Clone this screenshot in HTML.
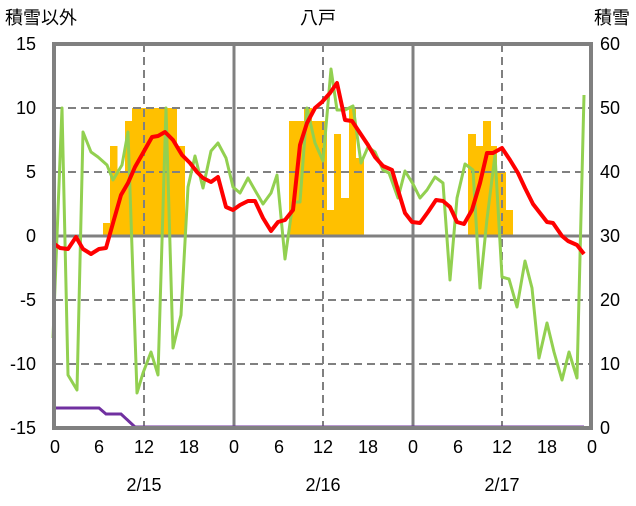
<!DOCTYPE html>
<html><head><meta charset="utf-8"><style>
body{margin:0;background:#fff}
svg text{font-family:"Liberation Sans","Noto Sans CJK JP",sans-serif;font-size:18px;fill:#000}
</style></head><body>
<svg width="636" height="501" viewBox="0 0 636 501" xmlns="http://www.w3.org/2000/svg">
<g fill="#ffc000">
<rect x="103" y="223" width="7" height="13"/>
<rect x="110" y="146" width="7.5" height="90"/>
<rect x="117" y="172" width="8" height="64"/>
<rect x="125" y="121" width="7" height="115"/>
<rect x="132" y="108" width="45" height="128"/>
<rect x="177" y="146" width="8" height="90"/>
<rect x="289" y="121" width="15" height="115"/>
<rect x="304" y="108" width="8" height="128"/>
<rect x="312" y="121" width="15" height="115"/>
<rect x="327" y="210" width="7" height="26"/>
<rect x="334" y="134" width="7" height="102"/>
<rect x="341" y="198" width="8" height="38"/>
<rect x="349" y="108" width="7" height="128"/>
<rect x="356" y="158" width="8" height="78"/>
<rect x="468" y="134" width="8" height="102"/>
<rect x="476" y="146" width="7" height="90"/>
<rect x="483" y="121" width="8" height="115"/>
<rect x="491" y="146" width="6" height="90"/>
<rect x="497" y="172" width="9" height="64"/>
<rect x="506" y="210" width="7" height="26"/>
</g>
<g stroke="#808080" stroke-width="2" stroke-dasharray="8,5" fill="none">
<line x1="55" y1="108" x2="590" y2="108"/>
<line x1="55" y1="172" x2="590" y2="172"/>
<line x1="55" y1="300" x2="590" y2="300"/>
<line x1="55" y1="364" x2="590" y2="364"/>
<line x1="144" y1="44" x2="144" y2="428"/>
<line x1="323" y1="44" x2="323" y2="428"/>
<line x1="502" y1="44" x2="502" y2="428"/>
</g>
<g stroke="#808080" stroke-width="3" fill="none">
<line x1="55" y1="236" x2="590" y2="236"/>
<line x1="234" y1="44" x2="234" y2="428"/>
<line x1="413" y1="44" x2="413" y2="428"/>
</g>
<polyline fill="none" stroke="#92d050" stroke-width="3" stroke-linejoin="round" points="53,338 62,108 68,375 77,390 83,132 91,152 98,157 107,165 113,180 122,165 128,132 137,393 143,373 151,352 158,375 166,108 173,348 181,315 188,187 195,156 203,188 211,151 218,143 226,158 233,187 240,193 248,178 256,192 263,204 271,193 277,175 285,259 293,202 300,202 307,108 315,143 323,161 331,69 337,110 345,110 353,106 361,163 368,147 375,152 383,170 389,173 398,198 405,171 413,184 420,198 427,190 435,177 443,183 450,280 457,198 465,164 473,170 480,288 487,219 495,155 502,277 509,279 517,307 525,261 532,288 539,358 547,323 554,352 562,380 569,352 577,378 584,95"/>
<polyline fill="none" stroke="#ff0000" stroke-width="4" stroke-linejoin="round" points="53,243 60,248 68,249 76,237 83,249 91,254 99,249 106,248 113,223 121,195 128,183 135,167 143,153 152,137 158,136 165,132 173,140 182,155 190,163 197,172 203,178 211,182 218,177 226,207 233,210 240,205 248,201 255,201 263,218 271,231 278,222 285,220 293,210 300,145 307,123 315,108 322,102 330,93 337,83 345,120 352,121 360,133 368,145 375,157 383,166 392,170 398,190 405,213 412,222 420,223 428,212 436,200 443,201 450,207 457,222 464,224 472,210 480,183 487,153 493,153 502,148 510,160 518,173 525,188 533,204 540,213 547,222 553,223 562,236 568,241 577,245 584,254"/>
<polyline fill="none" stroke="#7030a0" stroke-width="3" points="53,408 99,408 106,414 121,414 135,427 584,427"/>
<rect x="54" y="44" width="537" height="384" fill="none" stroke="#808080" stroke-width="4"/>
<text x="5" y="24">積雪以外</text>
<text x="318" y="24" text-anchor="middle">八戸</text>
<text x="630" y="24" text-anchor="end">積雪</text>
<g text-anchor="end">
<text x="36" y="50">15</text><text x="36" y="114">10</text><text x="36" y="178">5</text>
<text x="36" y="242">0</text><text x="36" y="306">-5</text><text x="36" y="370">-10</text><text x="36" y="434">-15</text>
</g>
<g text-anchor="start">
<text x="600" y="50">60</text><text x="600" y="114">50</text><text x="600" y="178">40</text>
<text x="600" y="242">30</text><text x="600" y="306">20</text><text x="600" y="370">10</text><text x="600" y="434">0</text>
</g>
<g text-anchor="middle">
<text x="55" y="453">0</text><text x="99" y="453">6</text><text x="144" y="453">12</text><text x="189" y="453">18</text>
<text x="234" y="453">0</text><text x="279" y="453">6</text><text x="323" y="453">12</text><text x="368" y="453">18</text>
<text x="413" y="453">0</text><text x="458" y="453">6</text><text x="502" y="453">12</text><text x="547" y="453">18</text>
<text x="592" y="453">0</text>
<text x="144" y="491">2/15</text><text x="323" y="491">2/16</text><text x="502" y="491">2/17</text>
</g>
</svg>
</body></html>
